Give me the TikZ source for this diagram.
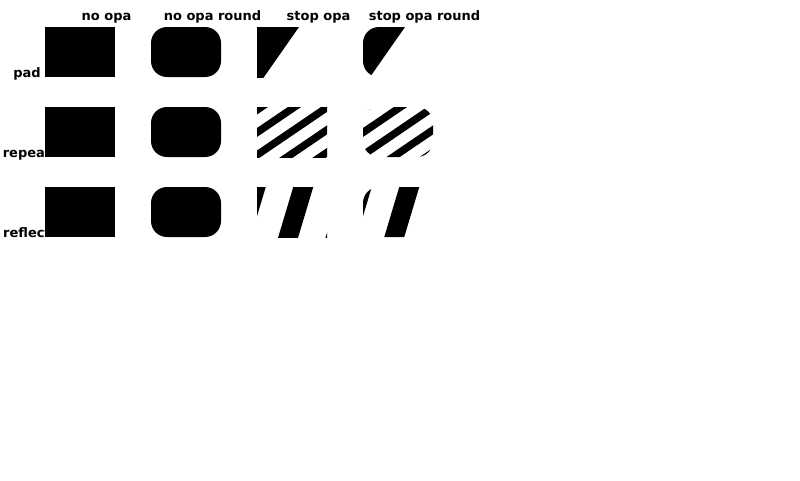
\documentclass[tikz,border=0pt]{standalone}
\usepackage{fontspec}
\setmainfont{DejaVu Sans}
\newcommand{\mypadfill}{\fill (-10,-10) -- (49,-10) -- (0,60) -- (-10,60) -- cycle;}
\newcommand{\myrepfill}{\foreach \a in {-1.5,21,43.5,66,88.5}{\fill (-10,\a+6.8) -- (80,\a-54.4) -- (80,\a-45.4) -- (-10,\a+15.8) -- cycle;}}
\newcommand{\myreffill}{\foreach \a in {-11.25,36.25,83.75}{\fill (\a+3,-10) -- (\a+23,-10) -- (\a+2,60) -- (\a-18,60) -- cycle;}}
\begin{document}
\begin{tikzpicture}[x=1pt,y=-1pt,
  lbl/.style={font=\fontsize{13}{15}\selectfont\bfseries, inner sep=0pt, anchor=base, text=black},
  solidbox/.style={fill=black},
  roundbox/.style={fill=black, rounded corners=16pt}]
\useasboundingbox[fill=white] (0,0) rectangle (800,480);
% column labels
\node[lbl] (c1) at (106.5,20.5) {no opa};
\node[lbl] (c2) at (212.5,20.5) {no opa round};
\node[lbl] (c3) at (318.5,20.5) {stop opa};
\node[lbl] (c4) at (424.5,20.5) {stop opa round};
% row labels
\node[lbl] (r1) at (27,77) {pad};
\node[lbl] (r2) at (27,157) {repeat};
\node[lbl] (r3) at (27,237) {reflect};
% no opa columns
\foreach \y in {27,107,187}{
  \fill[solidbox] (45,\y) rectangle (115,\y+50);
  \fill[roundbox] (151,\y) rectangle (221,\y+50);
}
% pad row
\begin{scope}[shift={(257,27)}]
  \clip (0,0) rectangle (70,50);
  \mypadfill
\end{scope}
\begin{scope}[shift={(363,27)}]
  \clip[rounded corners=16pt] (0,0) rectangle (70,50);
  \mypadfill
\end{scope}
% repeat row
\begin{scope}[shift={(257,107)}]
  \clip (0,0) rectangle (70,50);
  \myrepfill
\end{scope}
\begin{scope}[shift={(363,107)}]
  \clip[rounded corners=16pt] (0,0) rectangle (70,50);
  \myrepfill
\end{scope}
% reflect row
\begin{scope}[shift={(257,187)}]
  \clip (0,0) rectangle (70,50);
  \myreffill
\end{scope}
\begin{scope}[shift={(363,187)}]
  \clip[rounded corners=16pt] (0,0) rectangle (70,50);
  \myreffill
\end{scope}
\end{tikzpicture}
\end{document}
